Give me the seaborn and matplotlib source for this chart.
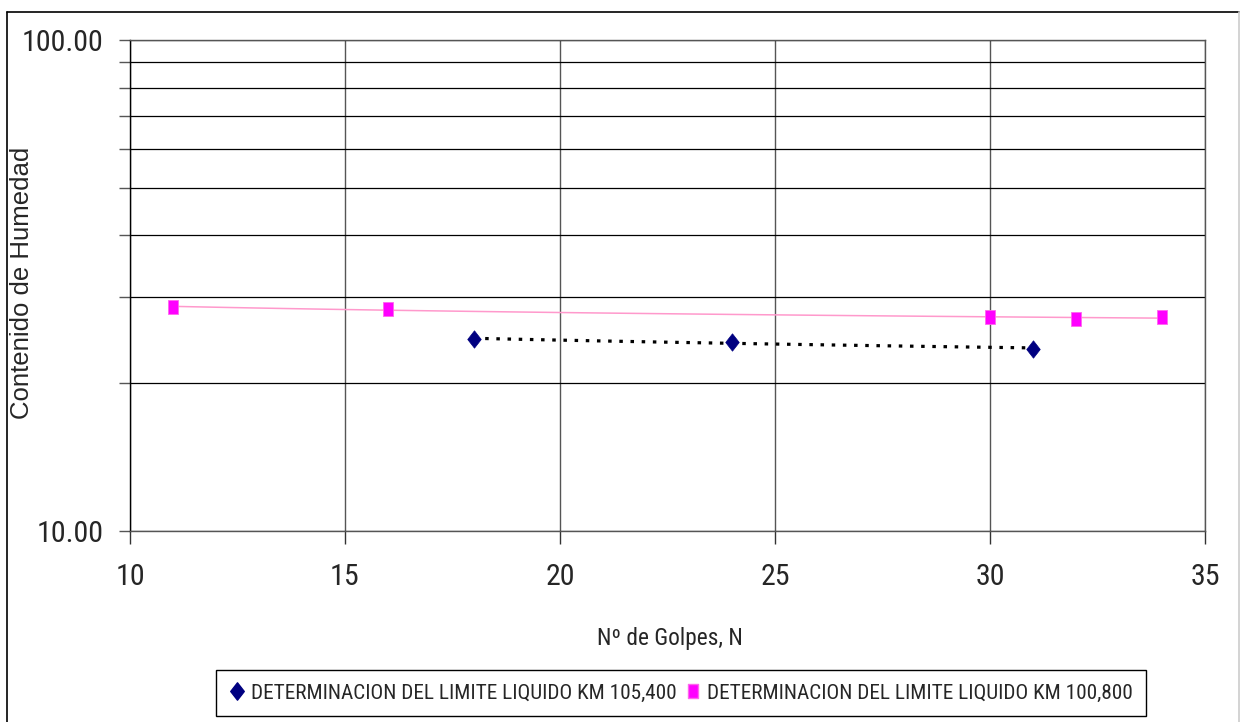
import numpy as np
import pandas as pd
import matplotlib
matplotlib.use("Agg")
import matplotlib.pyplot as plt
from matplotlib import font_manager
from matplotlib.font_manager import FontProperties
from matplotlib.textpath import TextPath
from matplotlib.path import Path
from matplotlib.lines import Line2D
from matplotlib.ticker import FixedLocator, FuncFormatter, NullFormatter
import seaborn as sns

# Data: blows (N) vs moisture content for two liquid-limit tests
golpes_105400 = [18, 24, 31]
humedad_105400 = [24.6, 24.3, 23.5]
golpes_100800 = [11, 16, 30, 32, 34]
humedad_100800 = [28.6, 28.3, 27.3, 27.0, 27.3]

serie_105400 = "DETERMINACION DEL LIMITE LIQUIDO KM 105,400"
serie_100800 = "DETERMINACION DEL LIMITE LIQUIDO KM 100,800"

x_ticks = [10, 15, 20, 25, 30, 35]
y_major = [10, 100]
y_minor = [20, 30, 40, 50, 60, 70, 80, 90]

sns.set_theme(style="white")
plt.rcParams["font.family"] = ["Liberation Sans", "DejaVu Sans"]

DPI = 100


def narrow_font():
    """Pick a condensed sans face if one is installed, else Liberation Sans."""
    prefs = ["Liberation Sans Narrow", "Roboto Condensed", "Open Sans Condensed"]
    fonts = font_manager.fontManager.ttflist
    for name in prefs:
        for f in fonts:
            if f.name == name and f.weight in (400, "normal", "regular") and f.style == "normal":
                return FontProperties(fname=f.fname)
    for f in fonts:
        if f.name == "DejaVu Sans" and "condensed" in str(f.stretch) and \
                f.weight in (400, "normal") and f.style == "normal":
            return FontProperties(fname=f.fname)
    return FontProperties(family="Liberation Sans")


def fit_size(text, fp, width_px, max_size):
    """Font size (pt) so that `text` is about `width_px` wide, capped at max_size."""
    w = TextPath((0, 0), text, size=10, prop=fp).get_extents().width
    size = 10 * width_px / (w * DPI / 72)
    return min(size, max_size)


fp_narrow = narrow_font()
tick_size = fit_size("100.00", fp_narrow, 78, 23)
legend_size = fit_size(serie_105400, fp_narrow, 425, 16)
xlabel_size = fit_size("Nº de Golpes, N", fp_narrow, 142, 17)

df_a = pd.DataFrame({"N": golpes_105400, "w": humedad_105400})
df_b = pd.DataFrame({"N": golpes_100800, "w": humedad_100800})

fig = plt.figure(figsize=(12.4, 7.22), dpi=DPI)
ax = fig.add_axes([130 / 1240, 1 - 531 / 722, 1075 / 1240, 491 / 722])

# Logarithmic trend lines (y ~ ln x)
sns.regplot(data=df_b, x="N", y="w", logx=True, ci=None, scatter=False, truncate=True,
            ax=ax, line_kws=dict(color="#ff99cc", lw=1.1, zorder=3))
sns.regplot(data=df_a, x="N", y="w", logx=True, ci=None, scatter=False, truncate=True,
            ax=ax, line_kws=dict(color="black", lw=2.3, linestyle=(0, (1.1, 2.4)),
                                 dash_capstyle="butt", zorder=3))

diamond = Path([(0, 1), (0.78, 0), (0, -1), (-0.78, 0), (0, 1)],
               [Path.MOVETO, Path.LINETO, Path.LINETO, Path.LINETO, Path.CLOSEPOLY])
rect = Path([(-0.75, -1), (0.75, -1), (0.75, 1), (-0.75, 1), (-0.75, -1)],
            [Path.MOVETO, Path.LINETO, Path.LINETO, Path.LINETO, Path.CLOSEPOLY])

sns.scatterplot(data=df_a, x="N", y="w", marker=diamond, s=12.5 ** 2, color="#000080",
                edgecolor="#000080", linewidth=0.5, ax=ax, zorder=4)
sns.scatterplot(data=df_b, x="N", y="w", marker=rect, s=10.5 ** 2, color="#ff00ff",
                edgecolor="#ff66ee", linewidth=0.6, ax=ax, zorder=4)

ax.set_yscale("log")
ax.set_ylim(10, 100)
ax.set_xlim(10, 35)
ax.xaxis.set_major_locator(FixedLocator(x_ticks))
ax.yaxis.set_major_locator(FixedLocator(y_major))
ax.yaxis.set_minor_locator(FixedLocator(y_minor))
ax.yaxis.set_major_formatter(FuncFormatter(lambda v, p: f"{v:.2f}"))
ax.yaxis.set_minor_formatter(NullFormatter())

ax.grid(which="both", axis="y", color="black", lw=0.9)
ax.grid(which="major", axis="x", color="#555555", lw=1.0)
ax.set_axisbelow(True)

for side in ["top", "right", "bottom"]:
    ax.spines[side].set_color("#555555")
    ax.spines[side].set_linewidth(1.0)
ax.spines["left"].set_color("black")
ax.spines["left"].set_linewidth(1.0)

ax.tick_params(axis="x", which="major", direction="out", length=9, width=1,
               color="#333333", pad=14, bottom=True)
ax.tick_params(axis="y", which="both", direction="out", length=8, width=1,
               color="#555555", pad=11, left=True)
for lab in ax.get_xticklabels() + ax.get_yticklabels():
    lab.set_fontproperties(fp_narrow)
    lab.set_fontsize(tick_size)

ax.set_xlabel("")
ax.set_ylabel("")
xl_fp = fp_narrow.copy()
xl_fp.set_size(xlabel_size)
fig.text(670 / 1240, 1 - 638 / 722, "Nº de Golpes, N", ha="center", va="center",
         fontproperties=xl_fp)
fig.text(22 / 1240, 1 - 283 / 722, "Contenido de Humedad", ha="center", va="center",
         rotation=90, fontsize=18.5)

handles = [
    Line2D([], [], linestyle="none", marker=diamond, markersize=12.5,
           markerfacecolor="#000080", markeredgecolor="#000080"),
    Line2D([], [], linestyle="none", marker=rect, markersize=10.5,
           markerfacecolor="#ff00ff", markeredgecolor="#ff66ee"),
]
leg_fp = fp_narrow.copy()
leg_fp.set_size(legend_size)
leg = fig.legend(handles, [serie_105400, serie_100800], ncol=2, loc="center",
                 bbox_to_anchor=(681 / 1240, 1 - 693 / 722), frameon=True, fancybox=False,
                 shadow=False, edgecolor="black", framealpha=1, handlelength=0.7,
                 handletextpad=0.3, columnspacing=0.4, borderpad=0.65,
                 borderaxespad=0, prop=leg_fp)
leg.get_frame().set_linewidth(1.0)

# Outer chart frame
fig.add_artist(Line2D([7 / 1240, 7 / 1240], [0, 1 - 12 / 722], transform=fig.transFigure,
                      color="black", lw=1.2))
fig.add_artist(Line2D([7 / 1240, 1238.5 / 1240], [1 - 12 / 722, 1 - 12 / 722],
                      transform=fig.transFigure, color="black", lw=1.2))
fig.add_artist(Line2D([1238.5 / 1240, 1238.5 / 1240], [0, 1 - 12 / 722],
                      transform=fig.transFigure, color="#cccccc", lw=1.2))

fig.savefig("out.png", dpi=DPI)
